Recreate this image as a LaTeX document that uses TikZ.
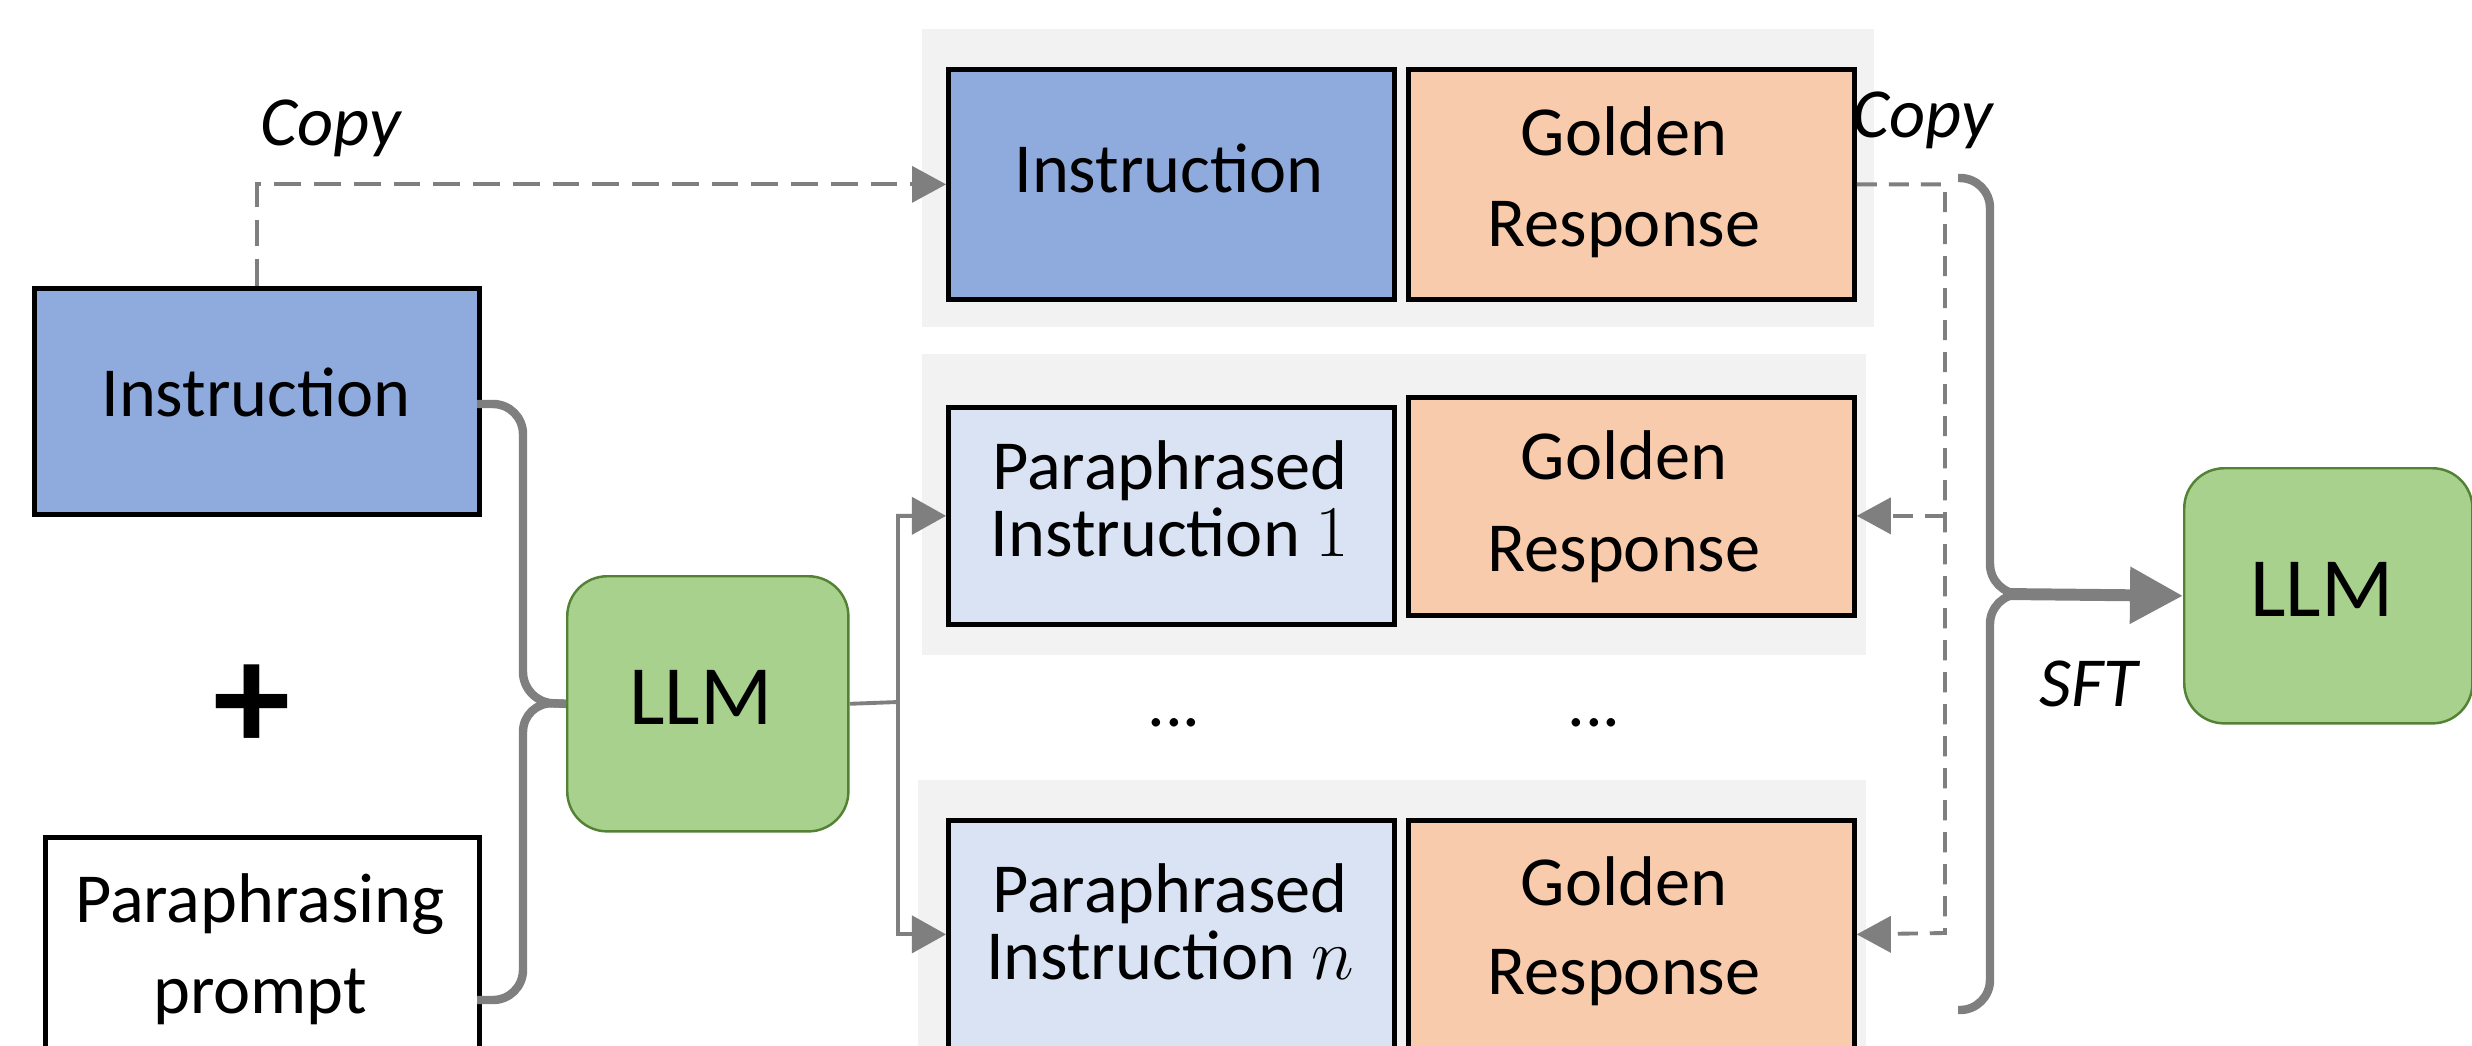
\documentclass[tikz,border=0pt]{standalone}
\usepackage{fontspec}
\setmainfont{Carlito}
\usetikzlibrary{arrows.meta}

\definecolor{instblue}{RGB}{143,170,220}
\definecolor{parablue}{RGB}{218,227,243}
\definecolor{peach}{RGB}{248,203,173}
\definecolor{llmgreen}{RGB}{169,209,142}
\definecolor{llmedge}{RGB}{84,130,53}
\definecolor{panelgray}{RGB}{242,242,242}
\definecolor{linkgray}{RGB}{127,127,127}

% close line spacing for the two-line paraphrase labels
\newcommand\tightlines{\fontsize{20}{19}\selectfont\lineskiplimit -50pt\relax}

\begin{document}
\begin{tikzpicture}[x=0.01cm, y=-0.01cm,
  panel/.style={fill=panelgray, draw=none},
  box/.style={draw=black, line width=1.3pt, inner sep=0pt, anchor=north west,
              minimum width=4.46cm},
  llmbox/.style={draw=llmedge, line width=0.7pt, fill=llmgreen,
                 rounded corners=0.4cm, inner sep=0pt, anchor=north west},
  txt/.style={font=\fontsize{20}{24}\selectfont, anchor=base, inner sep=0pt},
  tight/.style={font=\tightlines, align=center, anchor=base, inner sep=0pt},
  llmtxt/.style={font=\fontsize{24}{28}\selectfont, anchor=base, inner sep=0pt},
  lbl/.style={font=\fontsize{20}{24}\selectfont\itshape, anchor=base, inner sep=0pt},
  tip/.style={-{Triangle[length=0.34cm, width=0.37cm]}},
  conn/.style={draw=linkgray, line width=1.1pt, tip},
  dashA/.style={draw=linkgray, line width=1.1pt, dash pattern=on 7.6pt off 3.7pt},
  dashB/.style={draw=linkgray, line width=1.1pt, dash pattern=on 5.7pt off 3.4pt},
  brace/.style={draw=linkgray, line width=2.4pt, rounded corners=0.3cm},
]
\useasboundingbox (0,0) rectangle (2472,1045);

% grey panels behind each instruction/response pair
\fill[panel] (922,29) rectangle (1874,327);
\fill[panel] (922,354) rectangle (1866,655);
\fill[panel] (918,780) rectangle (1866,1070);

% inputs on the left
\node[box, fill=instblue, minimum width=4.45cm, minimum height=2.26cm] (ins) at (32,286) {};
\node[box, fill=white, minimum width=4.34cm, minimum height=2.17cm] (pp) at (43,835) {};

% paraphrasing model
\node[llmbox, minimum width=2.81cm, minimum height=2.55cm] (llm1) at (566,575) {};

% training pairs
\node[box, fill=instblue, minimum height=2.30cm] (ib) at (946,67) {};
\node[box, fill=peach, minimum height=2.30cm] (g1) at (1406,67) {};
\node[box, fill=parablue, minimum height=2.17cm] (p1) at (946,405) {};
\node[box, fill=peach, minimum height=2.18cm] (g2) at (1406,395) {};
\node[box, fill=parablue, minimum height=2.28cm] (pn) at (946,818) {};
\node[box, fill=peach, minimum height=2.28cm] (g3) at (1406,818) {};

% fine-tuned model
\node[llmbox, minimum width=2.88cm, minimum height=2.55cm] (llm2) at (2183,467) {};

% copy of the original instruction
\draw[dashA] (ins.north) |- (ib.west);
\fill[linkgray] (ib.west) -- ++(-34,-18.5) -- ++(0,37) -- cycle;

% copies of the golden response
\coordinate (rbus) at (1945,933);
\draw[dashB] (g1.east) -| (rbus) -- (g3.east);
\draw[dashB] (rbus |- p1.east) -- (g2.east |- p1.east);
\fill[linkgray] (g3.east) -- ++(34,-18.5) -- ++(0,37) -- cycle;
\fill[linkgray] (g2.east |- p1.east) -- ++(34,-18.5) -- ++(0,37) -- cycle;

% inputs merge into the model
\coordinate (lbt) at (477,404);
\coordinate (lbb) at (477,1000);
\draw[brace] (lbt) -- (523,404) -- (523,702) -- (llm1.west);
\draw[brace] (lbb) -- (523,1000) -- (523,702) -- (llm1.west);

% model output fans out to the paraphrases
\coordinate (split) at (898,702);
\draw[conn] (llm1.east) -- (split) |- (p1.west);
\draw[conn] (split) |- (pn.west);

% all pairs feed supervised fine-tuning
\coordinate (rbt) at (1958,178);
\coordinate (rbb) at (1958,1010);
\coordinate (rbc) at (2015,594);
\draw[brace] (rbt) -- (1990,178) -- (1990,594) -- (rbc);
\draw[brace] (rbb) -- (1990,1010) -- (1990,594) -- (rbc);
\draw[draw=linkgray, line width=3.4pt,
      -{Triangle[length=0.53cm, width=0.54cm]}] (2005,594) -- (llm2.west);

% texts
\node[txt] (tins) at (256,416) {Instruction};
\node[txt] (tpp1) at (260,922) {Paraphrasing};
\node[txt] (tpp2) at (260,1013) {prompt};
\node[txt, font=\fontsize{44}{44}\selectfont\bfseries, anchor=center] (plus) at (252,708) {+};
\node[llmtxt] (tllm1) at (701,724) {LLM};
\node[llmtxt] (tllm2) at (2322,616) {LLM};

\node[txt] (tib) at (1169,192) {Instruction};
\node[txt] (tg1a) at (1624,155) {Golden};
\node[txt] (tg1b) at (1624,246) {Response};
\node[tight] (tp1) at (1170,556) {Paraphrased\\Instruction $1$};
\node[txt] (tg2a) at (1624,479) {Golden};
\node[txt] (tg2b) at (1624,571) {Response};
\node[txt] (tdots1) at (1174,726) {...};
\node[txt] (tdots2) at (1594,726) {...};
\node[tight] (tpn) at (1170,979) {Paraphrased\\Instruction $n$};
\node[txt] (tg3a) at (1624,905) {Golden};
\node[txt] (tg3b) at (1624,994) {Response};

\node[lbl] (copy1) at (331,145) {Copy};
\node[lbl] (copy2) at (1923,137) {Copy};
\node[lbl] (sft) at (2089,706) {SFT};
\end{tikzpicture}
\end{document}
